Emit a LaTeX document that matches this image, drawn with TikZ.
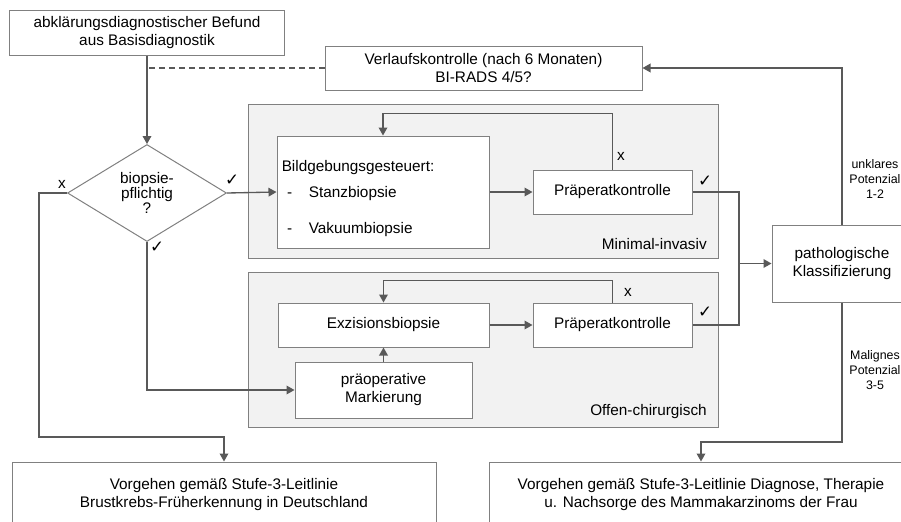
\documentclass[tikz,border=0pt]{standalone}
\usepackage{fontspec}
\setmainfont{Liberation Sans}
\newfontfamily\symfont{DejaVu Sans}
\usetikzlibrary{arrows.meta,shapes.geometric}
\definecolor{linegray}{RGB}{89,89,89}
\definecolor{boxgray}{RGB}{128,128,128}
\definecolor{areagray}{RGB}{242,242,242}
\newcommand{\ok}{{\symfont\fontsize{12.5}{14}\selectfont\char"2713}}

\begin{document}
\begin{tikzpicture}[x=0.75pt, y=-0.75pt,
        font=\fontsize{11.5}{13.5}\selectfont,
        box/.style={draw=boxgray, fill=white, line width=0.75pt, inner sep=2pt, align=center},
        area/.style={draw=boxgray, fill=areagray, line width=0.75pt},
        flow/.style={draw=linegray, line width=1pt, -{Triangle[length=6pt, width=6.5pt]}},
        wire/.style={draw=linegray, line width=1pt},
        note/.style={font=\fontsize{9.3}{11.25}\selectfont, align=center},
        tick/.style={inner sep=0pt}]
        \useasboundingbox (0,0) rectangle (901,522);
        
        \node[area, minimum width=352.5pt, minimum height=115.5pt] (minimal) at (483,181) {};
        \node[area, minimum width=352.5pt, minimum height=116.25pt] (offen) at (483,349.5) {};
        \node[anchor=base east, inner sep=0pt] (minimallabel) at (707,249) {Minimal-invasiv};
        \node[anchor=base east, inner sep=0pt] (offenlabel) at (707,415) {Offen-chirurgisch};
        
        \node[box, minimum width=206.25pt, minimum height=33.75pt] (befund) at (147,32.5) {abklärungsdiagnostischer Befund\\aus Basisdiagnostik};
        \node[box, minimum width=237.75pt, minimum height=33pt] (verlauf) at (483.5,68) {Verlaufskontrolle (nach 6 Monaten)\\BI-RADS 4/5?};
        \node[draw=boxgray, fill=white, line width=0.75pt, diamond, aspect=1.64, inner sep=0pt,
              minimum width=119.25pt, minimum height=72.75pt, align=center,
              font=\fontsize{11.5}{11.5}\selectfont] (pflicht) at (147,193) {biopsie-\\pflichtig\\?};
        \node[box, minimum width=159pt, minimum height=84pt] (bild) at (383,192) {};
        \node[anchor=north west, align=left, inner sep=0pt] (bildtext) at ([xshift=3.75pt, yshift=-18.6pt]bild.north west)
            {Bildgebungsgesteuert:\\[6pt]\hspace*{4pt}-\hspace{12.5pt}Stanzbiopsie\\[13.5pt]\hspace*{4pt}-\hspace{12.5pt}Vakuumbiopsie};
        \node[box, minimum width=119.25pt, minimum height=33pt] (praepA) at (612.5,192) {Präperatkontrolle};
        \node[box, minimum width=158.25pt, minimum height=33pt] (exzision) at (383.5,325) {Exzisionsbiopsie};
        \node[box, minimum width=119.25pt, minimum height=33pt] (praepB) at (612.5,325) {Präperatkontrolle};
        \node[box, minimum width=132.75pt, minimum height=42pt] (markierung) at (383.5,390) {präoperative\\Markierung};
        \node[box, minimum width=105pt, minimum height=57.75pt] (patho) at (842,263.5) {pathologische\\Klassifizierung};
        \node[box, minimum width=318pt, minimum height=49.5pt] (leitlinieA) at (224,495) {Vorgehen gemäß Stufe-3-Leitlinie\\Brustkrebs-Früherkennung in Deutschland};
        \node[box, minimum width=318pt, minimum height=49.5pt] (leitlinieB) at (701,495) {Vorgehen gemäß Stufe-3-Leitlinie Diagnose, Therapie\\u. Nachsorge des Mammakarzinoms der Frau};
        
        \coordinate (merge) at (739,263.5);
        \coordinate (leftturn) at (39,437);
        \coordinate (rightturn) at (842,442);
        
        \draw[flow] (befund.south) -- (pflicht.north);
        \draw[wire, dash pattern=on 4.5pt off 3pt] (verlauf.west) -- (verlauf.west -| befund.south);
        \draw[flow] (pflicht.east) -- (bild.west);
        \draw[flow] (bild) -- (praepA);
        \draw[flow] (praepA.north) -- ++(0,-56) -| (bild.north);
        \draw[flow] (praepA.east) -| (merge) -- (patho.west);
        \draw[flow] (exzision) -- (praepB);
        \draw[flow] (praepB.north) -- ++(0,-22) -| (exzision.north);
        \draw[wire] (praepB.east) -| (merge);
        \draw[flow] (markierung) -- (exzision);
        \draw[flow] (pflicht.south) |- (markierung.west);
        \draw[flow] (pflicht.west) -| (leftturn) -| (leitlinieA.north);
        \draw[flow] (patho.north) |- (verlauf.east);
        \draw[flow] (patho.south) -- (rightturn) -| (leitlinieB.north);
        
        \node[tick] (noA) at (62,184) {x};
        \node[tick] (okA) at (232,180) {\ok};
        \node[tick] (okB) at (157,247) {\ok};
        \node[tick] (noB) at (621,156) {x};
        \node[tick] (okC) at (705,181) {\ok};
        \node[tick] (noC) at (628,292) {x};
        \node[tick] (okD) at (705,312) {\ok};
        \node[note] (unklar) at (875,179) {unklares\\Potenzial\\1-2};
        \node[note] (malign) at (875,370) {Malignes\\Potenzial\\3-5};
        
    \end{tikzpicture}
\end{document}
